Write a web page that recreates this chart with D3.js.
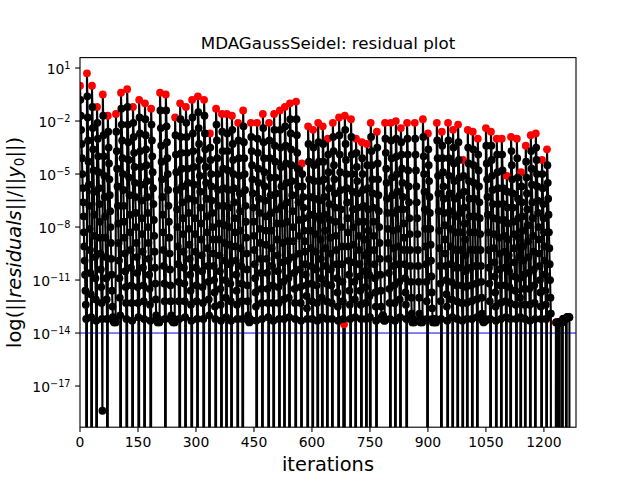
<!DOCTYPE html>
<html>
<head>
<meta charset="utf-8">
<script src="https://cdn.jsdelivr.net/npm/d3@7"></script>
<style>
  body { margin: 0; background: #fff; }
  text { font-family: "DejaVu Sans", sans-serif; fill: #000; }
</style>
</head>
<body>
<svg id="chart" width="640" height="480"></svg>
<script>
// iteration at which each MDA execution starts (red dots)
const cycleStart = [0, 18, 31, 44, 59, 72, 93, 106, 122, 137, 153, 168, 184, 207, 222, 246, 259, 274, 290, 305,
    321, 336, 352, 367, 380, 393, 409, 422, 442, 458, 473, 489, 502, 517, 530, 543, 559, 574, 590, 603,
    616, 628, 641, 654, 670, 683, 685, 701, 714, 729, 742, 752, 768, 789, 804, 817, 830, 846, 866, 887,
    900, 923, 936, 952, 965, 978, 991, 1003, 1016, 1029, 1050, 1063, 1078, 1091, 1104, 1115, 1130, 1141, 1153, 1166,
    1179, 1195, 1208, 1231, 1235, 1241, 1249, 1259];

// log10 of the normed residual for each iteration of each execution (null = residual of exactly 0)
const cycleLog = [
    [0.0,-0.8,-1.7,-2.5,-3.3,-4.1,-5.0,-5.8,-6.6,-7.4,-8.3,-9.1,-9.9,-10.7,-11.6,-12.4,-13.2,null],
    [0.7,-0.6,-1.8,-3.1,-4.3,-5.6,-6.8,-8.1,-9.3,-10.6,-11.8,-13.1,null],
    [0.0,-1.2,-2.4,-3.6,-4.8,-6.0,-7.3,-8.5,-9.7,-10.9,-12.1,-13.3,null],
    [-1.2,-2.1,-3.0,-4.0,-4.9,-5.8,-6.7,-7.7,-8.6,-9.5,-10.4,-11.4,-12.3,-13.2,-18.4],
    [-0.5,-1.7,-2.8,-4.0,-5.1,-6.3,-7.4,-8.6,-9.7,-10.9,-12.1,-13.2,null],
    [-1.7,-2.6,-3.5,-4.4,-5.3,-6.2,-7.1,-8.0,-8.9,-9.8,-10.7,-11.6,-12.5,-13.1,-13.3,-13.2,-13.4,-13.3,-13.2,-13.3,-13.4],
    [-1.6,-2.6,-3.7,-4.7,-5.7,-6.8,-7.8,-8.9,-9.9,-10.9,-12.0,-13.0,null],
    [-0.4,-1.3,-2.2,-3.1,-4.1,-5.0,-5.9,-6.8,-7.7,-8.6,-9.5,-10.5,-11.4,-12.3,-13.2,null],
    [-0.2,-1.2,-2.2,-3.2,-4.2,-5.2,-6.2,-7.3,-8.3,-9.3,-10.3,-11.3,-12.3,-13.3,null],
    [-1.2,-2.1,-2.9,-3.8,-4.6,-5.5,-6.3,-7.2,-8.0,-8.9,-9.7,-10.6,-11.4,-12.3,-13.1,null],
    [-0.8,-1.8,-2.7,-3.7,-4.6,-5.6,-6.5,-7.5,-8.4,-9.4,-10.3,-11.3,-12.2,-13.2,null],
    [-1.0,-1.9,-2.8,-3.6,-4.5,-5.4,-6.3,-7.2,-8.0,-8.9,-9.8,-10.7,-11.5,-12.4,-13.3,null],
    [-1.3,-2.2,-3.1,-4.0,-4.9,-5.8,-6.7,-7.6,-8.5,-9.4,-10.3,-11.2,-12.1,-13.0,-13.2,-13.3,-13.2,-13.4,-13.3,-13.2,-13.3,-13.4,-13.3],
    [-0.4,-1.4,-2.4,-3.4,-4.3,-5.3,-6.3,-7.3,-8.3,-9.3,-10.2,-11.2,-12.2,-13.2,null],
    [-0.5,-1.4,-2.3,-3.2,-4.1,-5.0,-5.9,-6.8,-7.7,-8.6,-9.5,-10.4,-11.3,-12.2,-13.0,-13.2,-13.3,-13.3,-13.2,-13.4,-13.3,-13.2,-13.3,-13.4],
    [-1.8,-2.8,-3.9,-4.9,-5.9,-7.0,-8.0,-9.1,-10.1,-11.1,-12.2,-13.2,null],
    [-1.0,-1.9,-2.9,-3.8,-4.7,-5.7,-6.6,-7.5,-8.4,-9.4,-10.3,-11.2,-12.2,-13.1,null],
    [-1.2,-2.1,-2.9,-3.8,-4.7,-5.5,-6.4,-7.2,-8.1,-9.0,-9.8,-10.7,-11.6,-12.4,-13.3,null],
    [-0.8,-1.8,-2.7,-3.7,-4.6,-5.6,-6.5,-7.5,-8.4,-9.4,-10.3,-11.3,-12.2,-13.2,null],
    [-0.6,-1.5,-2.4,-3.3,-4.2,-5.1,-6.0,-6.9,-7.8,-8.7,-9.6,-10.5,-11.4,-12.3,-13.2,null],
    [-0.8,-1.7,-2.7,-3.6,-4.6,-5.5,-6.4,-7.4,-8.3,-9.2,-10.2,-11.1,-12.1,-13.0,null],
    [-2.7,-3.5,-4.2,-5.0,-5.7,-6.5,-7.2,-8.0,-8.7,-9.5,-10.2,-11.0,-11.7,-12.5,-13.2,null],
    [-1.3,-2.2,-3.1,-4.1,-5.0,-5.9,-6.8,-7.8,-8.7,-9.6,-10.5,-11.5,-12.4,-13.3,null],
    [-1.6,-2.6,-3.7,-4.7,-5.8,-6.8,-7.9,-8.9,-9.9,-11.0,-12.0,-13.1,null],
    [-1.6,-2.7,-3.7,-4.8,-5.9,-6.9,-8.0,-9.0,-10.1,-11.2,-12.2,-13.3,null],
    [-1.7,-2.5,-3.3,-4.2,-5.0,-5.8,-6.6,-7.5,-8.3,-9.1,-9.9,-10.7,-11.6,-12.4,-13.2,null],
    [-2.1,-3.1,-4.1,-5.1,-6.1,-7.1,-8.2,-9.2,-10.2,-11.2,-12.2,-13.2,null],
    [-1.4,-2.3,-3.2,-4.1,-5.0,-5.9,-6.8,-7.7,-8.6,-9.5,-10.4,-11.3,-12.2,-13.0,-13.3,-13.2,-13.4,-13.3,-13.2,-13.3],
    [-2.1,-2.9,-3.7,-4.5,-5.3,-6.1,-6.9,-7.7,-8.5,-9.3,-10.1,-10.9,-11.7,-12.5,-13.3,null],
    [-2.1,-3.0,-3.8,-4.7,-5.5,-6.4,-7.2,-8.1,-8.9,-9.8,-10.6,-11.5,-12.3,-13.2,null],
    [-1.6,-2.4,-3.2,-4.1,-4.9,-5.7,-6.5,-7.4,-8.2,-9.0,-9.8,-10.6,-11.5,-12.3,-13.1,null],
    [-2.1,-3.1,-4.1,-5.2,-6.2,-7.2,-8.2,-9.2,-10.2,-11.3,-12.3,-13.3,null],
    [-1.6,-2.5,-3.4,-4.3,-5.2,-6.1,-7.0,-7.8,-8.7,-9.6,-10.5,-11.4,-12.3,-13.2,null],
    [-1.4,-2.5,-3.5,-4.6,-5.7,-6.8,-7.8,-8.9,-10.0,-11.1,-12.1,-13.2,null],
    [-1.2,-2.3,-3.4,-4.4,-5.5,-6.6,-7.7,-8.8,-9.9,-10.9,-12.0,-13.1,null],
    [-1.0,-1.9,-2.7,-3.6,-4.5,-5.4,-6.2,-7.1,-8.0,-8.8,-9.7,-10.6,-11.5,-12.3,-13.2,null],
    [-0.9,-1.9,-2.8,-3.8,-4.7,-5.7,-6.6,-7.6,-8.5,-9.5,-10.4,-11.4,-12.3,-13.3,null],
    [-4.4,-5.0,-5.7,-6.3,-6.9,-7.5,-8.2,-8.8,-9.4,-10.1,-10.7,-11.3,-11.9,-12.6,-13.2,null],
    [-2.3,-3.3,-4.3,-5.3,-6.3,-7.3,-8.2,-9.2,-10.2,-11.2,-12.2,-13.2,null],
    [-2.5,-3.5,-4.5,-5.4,-6.4,-7.4,-8.4,-9.4,-10.4,-11.3,-12.3,-13.3,null],
    [-2.1,-3.2,-4.3,-5.4,-6.5,-7.6,-8.7,-9.8,-10.9,-12.0,-13.1,null],
    [-2.3,-3.3,-4.3,-5.3,-6.3,-7.3,-8.2,-9.2,-10.2,-11.2,-12.2,-13.2,null],
    [-3.0,-3.9,-4.9,-5.8,-6.7,-7.6,-8.6,-9.5,-10.4,-11.3,-12.3,-13.2,null],
    [-2.1,-2.9,-3.7,-4.5,-5.3,-6.1,-6.9,-7.7,-8.5,-9.3,-10.1,-10.9,-11.7,-12.5,-13.3,null],
    [-1.8,-2.8,-3.9,-4.9,-5.9,-7.0,-8.0,-9.1,-10.1,-11.1,-12.2,-13.2,null],
    [-13.5,null],
    [-1.7,-2.5,-3.3,-4.2,-5.0,-5.8,-6.6,-7.5,-8.3,-9.1,-9.9,-10.7,-11.6,-12.4,-13.2,null],
    [-1.9,-2.9,-3.9,-5.0,-6.0,-7.0,-8.0,-9.0,-10.0,-11.1,-12.1,-13.1,null],
    [-3.0,-3.8,-4.6,-5.4,-6.1,-6.9,-7.7,-8.5,-9.3,-10.1,-10.8,-11.6,-12.4,-13.2,null],
    [-3.2,-4.1,-5.0,-5.9,-6.8,-7.7,-8.7,-9.6,-10.5,-11.4,-12.3,-13.2,null],
    [-3.3,-4.5,-5.8,-7.0,-8.2,-9.4,-10.7,-11.9,-13.1,null],
    [-2.1,-2.9,-3.7,-4.5,-5.3,-6.1,-6.9,-7.7,-8.5,-9.3,-10.1,-10.9,-11.7,-12.5,-13.3,null],
    [-2.6,-3.5,-4.4,-5.3,-6.2,-7.1,-8.0,-8.9,-9.8,-10.7,-11.6,-12.5,-13.1,-13.2,-13.1,-13.0,-13.0,-13.1,-13.2,-13.3,-13.3],
    [-2.1,-3.0,-3.8,-4.7,-5.5,-6.4,-7.2,-8.1,-8.9,-9.8,-10.6,-11.5,-12.3,-13.2,null],
    [-2.1,-3.1,-4.1,-5.2,-6.2,-7.2,-8.2,-9.2,-10.2,-11.3,-12.3,-13.3,null],
    [-2.0,-3.0,-4.0,-5.0,-6.0,-7.0,-8.1,-9.1,-10.1,-11.1,-12.1,-13.1,null],
    [-2.4,-3.2,-3.9,-4.7,-5.5,-6.3,-7.0,-7.8,-8.6,-9.3,-10.1,-10.9,-11.7,-12.4,-13.2,null],
    [-2.1,-3.0,-3.9,-4.8,-5.7,-6.6,-7.5,-8.4,-9.3,-10.2,-11.1,-12.0,-12.9,-13.3,-13.4,-13.3,-13.2,-13.3,-13.4,-13.3],
    [-2.1,-3.0,-3.9,-4.8,-5.7,-6.6,-7.5,-8.4,-9.3,-10.2,-11.1,-12.0,-12.9,-13.2,-13.3,-13.4,-13.3,-13.3,-13.2,-13.4,-13.3],
    [-1.9,-2.9,-4.0,-5.0,-6.0,-7.0,-8.1,-9.1,-10.1,-11.1,-12.2,-13.2,null],
    [-2.7,-3.6,-4.5,-5.4,-6.3,-7.2,-8.1,-9.0,-9.9,-10.8,-11.7,-12.6,-13.2,-13.4,-13.3,-13.3,-13.2,-13.4,-13.3,-13.2,-13.3,-13.4,-13.3],
    [-2.1,-3.1,-4.1,-5.1,-6.1,-7.1,-8.2,-9.2,-10.2,-11.2,-12.2,-13.2,null],
    [-2.6,-3.4,-4.1,-4.9,-5.7,-6.4,-7.2,-7.9,-8.7,-9.5,-10.2,-11.0,-11.8,-12.5,-13.3,null],
    [-2.1,-3.1,-4.1,-5.1,-6.1,-7.1,-8.1,-9.1,-10.1,-11.1,-12.1,-13.1,null],
    [-2.5,-3.5,-4.4,-5.4,-6.4,-7.4,-8.3,-9.3,-10.3,-11.3,-12.2,-13.2,null],
    [-2.2,-3.2,-4.2,-5.2,-6.2,-7.2,-8.3,-9.3,-10.3,-11.3,-12.3,-13.3,null],
    [-4.2,-5.1,-6.0,-6.9,-7.8,-8.7,-9.6,-10.5,-11.4,-12.3,-13.2,null],
    [-2.5,-3.5,-4.4,-5.4,-6.4,-7.4,-8.3,-9.3,-10.3,-11.3,-12.2,-13.2,null],
    [-2.6,-3.6,-4.5,-5.5,-6.4,-7.4,-8.3,-9.3,-10.2,-11.2,-12.1,-13.1,null],
    [-3.0,-3.9,-4.8,-5.7,-6.6,-7.5,-8.4,-9.3,-10.2,-11.1,-12.0,-12.9,-13.2,-13.3,-13.3,-13.4,-13.2,-13.3,-13.3,-13.2,-13.3],
    [-2.4,-3.4,-4.4,-5.3,-6.3,-7.3,-8.3,-9.3,-10.3,-11.2,-12.2,-13.2,null],
    [-2.6,-3.4,-4.2,-5.1,-5.9,-6.7,-7.5,-8.4,-9.2,-10.0,-10.8,-11.7,-12.5,-13.3,null],
    [-3.0,-3.9,-4.9,-5.8,-6.7,-7.6,-8.6,-9.5,-10.4,-11.3,-12.3,-13.2,null],
    [-3.0,-3.9,-4.8,-5.8,-6.7,-7.6,-8.5,-9.4,-10.3,-11.3,-12.2,-13.1,null],
    [-5.1,-6.0,-6.9,-7.8,-8.7,-9.6,-10.5,-11.4,-12.3,-13.2,null],
    [-2.9,-3.7,-4.5,-5.3,-6.1,-6.9,-7.7,-8.4,-9.2,-10.0,-10.8,-11.6,-12.4,-13.2,null],
    [-3.0,-4.1,-5.2,-6.4,-7.5,-8.6,-9.7,-10.9,-12.0,-13.1,null],
    [-4.9,-5.7,-6.6,-7.4,-8.2,-9.1,-9.9,-10.7,-11.5,-12.4,-13.2,null],
    [-3.4,-4.3,-5.2,-6.1,-7.0,-7.9,-8.8,-9.7,-10.6,-11.5,-12.4,-13.3,null],
    [-2.8,-3.7,-4.7,-5.6,-6.6,-7.5,-8.5,-9.4,-10.4,-11.3,-12.3,-13.2,null],
    [-2.7,-3.5,-4.2,-5.0,-5.7,-6.5,-7.2,-8.0,-8.7,-9.5,-10.2,-11.0,-11.7,-12.5,-13.2,null],
    [-4.2,-5.0,-5.8,-6.7,-7.5,-8.3,-9.1,-9.9,-10.7,-11.6,-12.4,-13.2,null],
    [-3.6,-4.5,-5.5,-6.4,-7.3,-8.3,-9.2,-10.1,-11.0,-12.0,-12.9,null],
    [-13.4,-13.4,-13.4,null],
    [-13.4,-13.4,-13.4,-13.4,-13.4,null],
    [-13.4,-13.4,-13.4,-13.4,-13.4,-13.4,-13.4,null],
    [-13.2,-13.2,-13.2,-13.2,-13.2,-13.2,-13.2,-13.2,-13.2,null],
    [-13.1,-13.1,-13.1,-13.1,-13.1,-13.1,-13.1,-13.1,null]
];

const xTicks = [0, 150, 300, 450, 600, 750, 900, 1050, 1200];
const yTickExp = [1, -2, -5, -8, -11, -14, -17];
const toleranceExp = -14;

// one record per iteration
const points = [];
cycleLog.forEach((vals, c) => {
    vals.forEach((v, k) => {
        points.push({ it: cycleStart[c] + k, v: v === null ? 0 : Math.pow(10, v), first: k === 0 });
    });
});

const svg = d3.select("#chart");
const box = { left: 80, right: 576, top: 57.6, bottom: 427.2 };

const x = d3.scaleLinear().domain([0, 1283]).range([box.left, box.right]);
const y = d3.scaleLog().domain([Math.pow(10, -19.33), Math.pow(10, 1.59)]).range([box.bottom, box.top]);
// a residual of 0 is clipped far below the axes, as matplotlib does
const yv = v => y(v > 0 ? v : 1e-300);

svg.append("defs").append("clipPath").attr("id", "plotclip")
    .append("rect")
    .attr("x", box.left).attr("y", box.top)
    .attr("width", box.right - box.left).attr("height", box.bottom - box.top);

const plot = svg.append("g").attr("clip-path", "url(#plotclip)");

// tolerance line
plot.append("line")
    .attr("x1", box.left).attr("x2", box.right)
    .attr("y1", y(Math.pow(10, toleranceExp))).attr("y2", y(Math.pow(10, toleranceExp)))
    .attr("stroke", "#0000ff").attr("stroke-width", 1);

const line = d3.line().x(d => x(d.it)).y(d => yv(d.v));
plot.append("path")
    .datum(points)
    .attr("d", line)
    .attr("fill", "none")
    .attr("stroke", "#000")
    .attr("stroke-width", 2.1)
    .attr("stroke-linejoin", "round");

plot.selectAll("circle.start")
    .data(points.filter(d => d.first && d.v > 0))
    .join("circle")
    .attr("class", "start")
    .attr("cx", d => x(d.it)).attr("cy", d => yv(d.v))
    .attr("r", 3.9)
    .attr("fill", "#ff0000");

plot.selectAll("circle.iter")
    .data(points.filter(d => !d.first && d.v > 0))
    .join("circle")
    .attr("class", "iter")
    .attr("cx", d => x(d.it)).attr("cy", d => yv(d.v))
    .attr("r", 3.9)
    .attr("fill", "#000");

// frame
svg.append("rect")
    .attr("x", box.left).attr("y", box.top)
    .attr("width", box.right - box.left).attr("height", box.bottom - box.top)
    .attr("fill", "none").attr("stroke", "#000").attr("stroke-width", 1.1);

// x axis
const xt = svg.append("g");
xt.selectAll("line").data(xTicks).join("line")
    .attr("x1", d => x(d)).attr("x2", d => x(d))
    .attr("y1", box.bottom).attr("y2", box.bottom + 4.9)
    .attr("stroke", "#000").attr("stroke-width", 1.1);
xt.selectAll("text").data(xTicks).join("text")
    .attr("x", d => x(d)).attr("y", box.bottom + 20)
    .attr("text-anchor", "middle")
    .attr("font-size", 13.9)
    .text(d => d);

// y axis (log, labels as 10^n, major ticks only)
const yt = svg.append("g");
yt.selectAll("line").data(yTickExp).join("line")
    .attr("x1", box.left - 4.9).attr("x2", box.left)
    .attr("y1", d => y(Math.pow(10, d))).attr("y2", d => y(Math.pow(10, d)))
    .attr("stroke", "#000").attr("stroke-width", 1.1);
const lab = yt.selectAll("text").data(yTickExp).join("text")
    .attr("x", box.left - 9.5)
    .attr("y", d => y(Math.pow(10, d)) + 6)
    .attr("text-anchor", "end")
    .attr("font-size", 13.9);
lab.append("tspan").text("10");
lab.append("tspan").attr("font-size", 9.7).attr("dy", -5.5)
    .text(d => String(d).replace("-", "\u2212"));

// title and axis labels
svg.append("text")
    .attr("x", (box.left + box.right) / 2).attr("y", box.top - 8.3)
    .attr("text-anchor", "middle").attr("font-size", 16.7)
    .text("MDAGaussSeidel: residual plot");

svg.append("text")
    .attr("x", (box.left + box.right) / 2).attr("y", 471)
    .attr("text-anchor", "middle").attr("font-size", 19.4)
    .text("iterations");

const yl = svg.append("text")
    .attr("transform", `translate(21,${(box.top + box.bottom) / 2}) rotate(-90)`)
    .attr("text-anchor", "middle").attr("font-size", 19.4);
yl.append("tspan").text("log(||");
yl.append("tspan").attr("font-style", "italic").text("residuals");
yl.append("tspan").text("||/||");
yl.append("tspan").attr("font-style", "italic").text("y");
yl.append("tspan").attr("font-size", 13.6).attr("dy", 3).text("0");
yl.append("tspan").attr("dy", -3).text("||)");
</script>
</body>
</html>
